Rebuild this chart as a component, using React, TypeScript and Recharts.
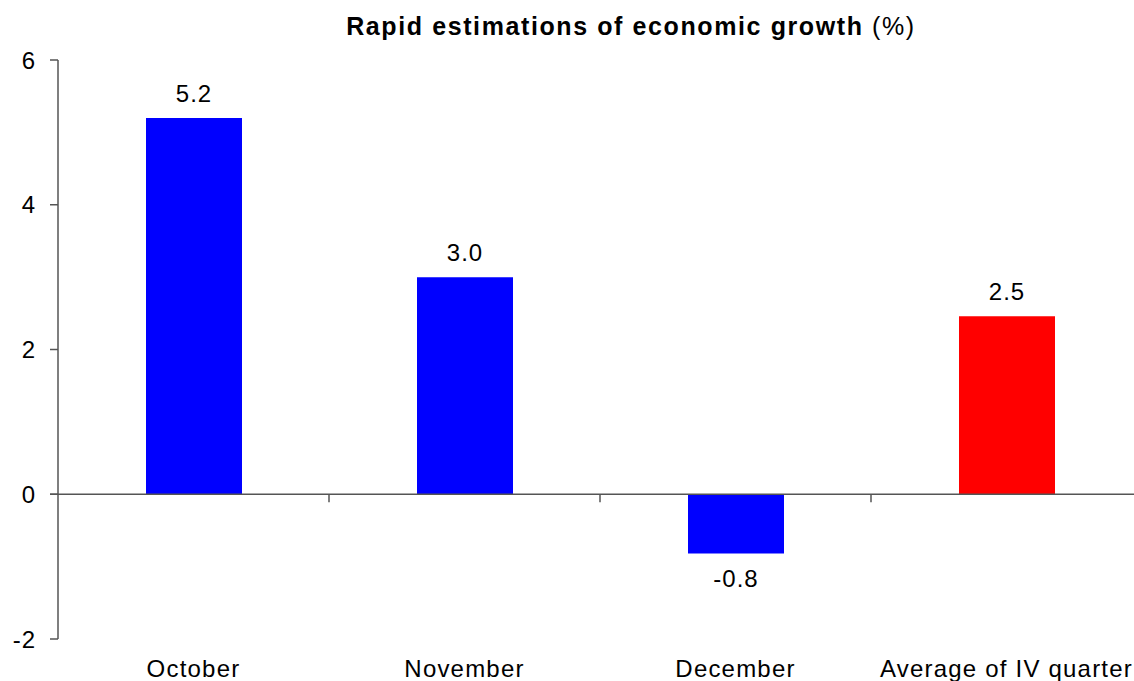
import React from 'react';
import { ComposedChart, Bar, Cell, XAxis, YAxis, ReferenceLine, LabelList } from 'recharts';

const categories = ['October', 'November', 'December', 'Average of IV quarter'];
const growth = [5.2, 3.0, -0.82, 2.46];
const barColors = ['#0000FF', '#0000FF', '#0000FF', '#FF0000'];
const yTicks = [-2, 0, 2, 4, 6];

const data = categories.map((name, i) => ({ name, value: growth[i] }));

const FONT = '"Liberation Sans", Arial, sans-serif';
const AXIS = '#555555';

const ZeroLine = (props: any) => {
  const { x1, x2, y1 } = props;
  const n = categories.length;
  const left = Math.min(x1, x2);
  const w = Math.abs(x2 - x1);
  const ticks = [];
  for (let i = 1; i < n; i++) {
    const x = left + (w * i) / n;
    ticks.push(<line key={i} x1={x} x2={x} y1={y1} y2={y1 + 8} stroke={AXIS} strokeWidth={1.5} />);
  }
  return (
    <g>
      <line x1={left - 8} x2={left + w} y1={y1} y2={y1} stroke={AXIS} strokeWidth={1.5} />
      {ticks}
    </g>
  );
};

const ValueLabel = (props: any) => {
  const { x, y, width, height, value } = props;
  const neg = value < 0;
  const top = Math.min(y, y + height);
  const bottom = Math.max(y, y + height);
  const ty = neg ? bottom + 33 : top - 16;
  return (
    <text x={x + width / 2} y={ty} textAnchor="middle" fontSize={24} letterSpacing={1} fontFamily={FONT} fill="#000">
      {Number(value).toFixed(1)}
    </text>
  );
};

const CatTick = (props: any) => {
  const { x, y, payload } = props;
  return (
    <text x={x} y={y + 30} textAnchor="middle" fontSize={24} letterSpacing={1.2} fontFamily={FONT} fill="#000">
      {payload.value}
    </text>
  );
};

export default function App() {
  return (
    <div style={{ position: 'absolute', left: 0, top: 0, width: 1134, height: 681, overflow: 'hidden', background: '#fff' }}>
      <div
        style={{
          position: 'absolute',
          left: 0,
          width: 1262,
          top: 12,
          textAlign: 'center',
          fontFamily: FONT,
          fontSize: 25,
          letterSpacing: 1.6,
          fontWeight: 'bold',
          color: '#000',
        }}
      >
        Rapid estimations of economic growth <span style={{ fontWeight: 'normal' }}>(%)</span>
      </div>
      <ComposedChart
        width={1150}
        height={681}
        data={data}
        margin={{ top: 60, right: 8, bottom: 0, left: 0 }}
        style={{ position: 'absolute', left: 0, top: 0 }}
      >
        <XAxis dataKey="name" axisLine={false} tickLine={false} height={42} tick={<CatTick />} interval={0} />
        <YAxis
          domain={[-2, 6]}
          ticks={yTicks}
          width={58}
          tickSize={8}
          tickMargin={14}
          axisLine={{ stroke: AXIS, strokeWidth: 1.5 }}
          tickLine={{ stroke: AXIS, strokeWidth: 1.5 }}
          tick={{ fontSize: 24, fontFamily: FONT, fill: '#000', letterSpacing: 1 }}
        />
        <ReferenceLine y={0} shape={<ZeroLine />} />
        <Bar dataKey="value" barSize={96} isAnimationActive={false}>
          {data.map((d, i) => (
            <Cell key={d.name} fill={barColors[i]} />
          ))}
          <LabelList dataKey="value" content={<ValueLabel />} />
        </Bar>
      </ComposedChart>
    </div>
  );
}
